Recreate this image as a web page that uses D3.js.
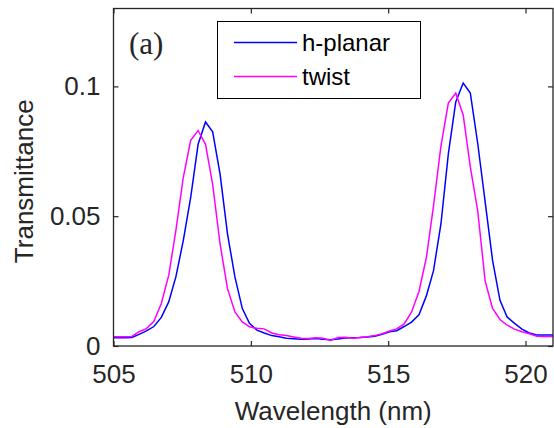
<!DOCTYPE html>
<html><head><meta charset="utf-8">
<script src="https://cdn.jsdelivr.net/npm/d3@7"></script>
<style>body{margin:0;background:#fff}svg{display:block}</style>
</head><body>
<svg id="c" width="554" height="428"></svg>
<script>
const wavelength = [504.86,505.13,505.40,505.67,505.93,506.20,506.47,506.74,507.01,507.27,507.54,507.81,508.08,508.35,508.61,508.88,509.15,509.42,509.69,509.95,510.22,510.49,510.76,511.03,511.29,511.56,511.83,512.10,512.37,512.63,512.90,513.17,513.44,513.71,513.97,514.24,514.51,514.78,515.05,515.31,515.58,515.85,516.12,516.39,516.65,516.92,517.19,517.46,517.73,517.99,518.26,518.53,518.80,519.07,519.33,519.60,519.87,520.14,520.41,520.67,520.94,521.21];
const hPlanar = [0.0032,0.0032,0.0032,0.0033,0.0045,0.0058,0.0075,0.011,0.017,0.0266,0.0406,0.0572,0.0777,0.0863,0.0825,0.0662,0.0432,0.0266,0.0144,0.0087,0.0061,0.005,0.0040,0.0036,0.0030,0.0028,0.0026,0.0027,0.0029,0.0026,0.0024,0.0027,0.0031,0.0032,0.0033,0.0035,0.0038,0.0045,0.0055,0.0059,0.0075,0.0092,0.0120,0.0193,0.0290,0.0470,0.0740,0.0940,0.1013,0.0974,0.0780,0.0555,0.0330,0.0176,0.0112,0.0087,0.0065,0.0050,0.0042,0.0042,0.0042,0.0042];
const twist = [0.0036,0.0036,0.0036,0.0037,0.0055,0.0067,0.0095,0.0164,0.0272,0.0444,0.0649,0.0792,0.0830,0.0777,0.0623,0.0393,0.0221,0.0131,0.0093,0.0074,0.0068,0.0066,0.0050,0.0043,0.0040,0.0035,0.0030,0.0029,0.0032,0.0030,0.0021,0.0033,0.0034,0.0030,0.0033,0.0036,0.0040,0.0047,0.0058,0.0066,0.0085,0.0130,0.0210,0.0340,0.0540,0.0770,0.0936,0.0974,0.0890,0.0690,0.0520,0.0250,0.0145,0.0102,0.0080,0.0065,0.0055,0.0047,0.0038,0.0037,0.0037,0.0037];
const xTicks = [505, 510, 515, 520];
const yTicks = [0, 0.05, 0.1];
const yTickLabels = ["0", "0.05", "0.1"];
const seriesNames = ["h-planar", "twist"];
const seriesColors = ["#0000ff", "#ff00ff"];

const svg = d3.select("#c");
const L = 113.5, R = 553, T = 8.5, B = 346;
const x = d3.scaleLinear().domain([505, 521]).range([L, R]);
const y = d3.scaleLinear().domain([0, 0.13]).range([B, T]);
const axisColor = "#262626";
const font = "'Liberation Sans', Arial, sans-serif";

svg.append("defs").append("clipPath").attr("id","clip")
  .append("rect").attr("x", L).attr("y", T).attr("width", R - L).attr("height", B - T);

const series = [hPlanar, twist];
const line = d3.line().x((d,i)=>x(wavelength[i])).y(d=>y(d));
const g = svg.append("g").attr("clip-path","url(#clip)");
series.forEach((s, i) => {
  g.append("path").attr("d", line(s)).attr("fill","none")
    .attr("stroke", seriesColors[i]).attr("stroke-width", 1.5).attr("stroke-linejoin","miter");
});

// axes (MATLAB style box, inward ticks)
const axBottom = svg.append("g").attr("transform", `translate(0,${B})`)
  .call(d3.axisBottom(x).tickValues(xTicks).tickSize(-5).tickPadding(19).tickFormat(d3.format("d")));
const axTop = svg.append("g").attr("transform", `translate(0,${T})`)
  .call(d3.axisTop(x).tickValues(xTicks).tickSize(-5).tickFormat(""));
const axLeft = svg.append("g").attr("transform", `translate(${L},0)`)
  .call(d3.axisLeft(y).tickValues(yTicks).tickSize(-5).tickPadding(13).tickFormat((d,i)=>yTickLabels[i]));
const axRight = svg.append("g").attr("transform", `translate(${R},0)`)
  .call(d3.axisRight(y).tickValues(yTicks).tickSize(-5).tickFormat(""));
[axBottom, axTop, axLeft, axRight].forEach(a => {
  a.select(".domain").remove();
  a.selectAll(".tick line").attr("stroke", axisColor).attr("stroke-width", 1.2);
  a.selectAll(".tick text").attr("fill", axisColor).style("font-family", font).style("font-size", "26px");
});
svg.append("rect").attr("x", L).attr("y", T).attr("width", R - L).attr("height", B - T)
  .attr("fill","none").attr("stroke", axisColor).attr("stroke-width", 1.3);

// labels
svg.append("text").attr("x", (L + R) / 2).attr("y", 420).attr("text-anchor","middle")
  .attr("fill", axisColor).style("font-family", font).style("font-size","26px").text("Wavelength (nm)");
svg.append("text").attr("transform", `translate(33,${(T + B) / 2 + 4}) rotate(-90)`).attr("text-anchor","middle")
  .attr("fill", axisColor).style("font-family", font).style("font-size","26px").text("Transmittance");
svg.append("text").attr("x", 129).attr("y", 54).attr("fill", axisColor)
  .style("font-family","'Liberation Serif', 'Times New Roman', serif").style("font-size","31px").text("(a)");

// legend
const lg = svg.append("g");
lg.append("rect").attr("x", 217.5).attr("y", 21.5).attr("width", 203).attr("height", 77)
  .attr("fill","#fff").attr("stroke","#000").attr("stroke-width", 1);
seriesNames.forEach((n, i) => {
  const ly = 42.5 + i * 34;
  lg.append("line").attr("x1", 234).attr("x2", 297).attr("y1", ly).attr("y2", ly)
    .attr("stroke", seriesColors[i]).attr("stroke-width", 1.5);
  lg.append("text").attr("x", 302).attr("y", ly + 8.5).attr("fill","#000")
    .style("font-family", font).style("font-size","24px").text(n);
});
</script>
</body></html>
